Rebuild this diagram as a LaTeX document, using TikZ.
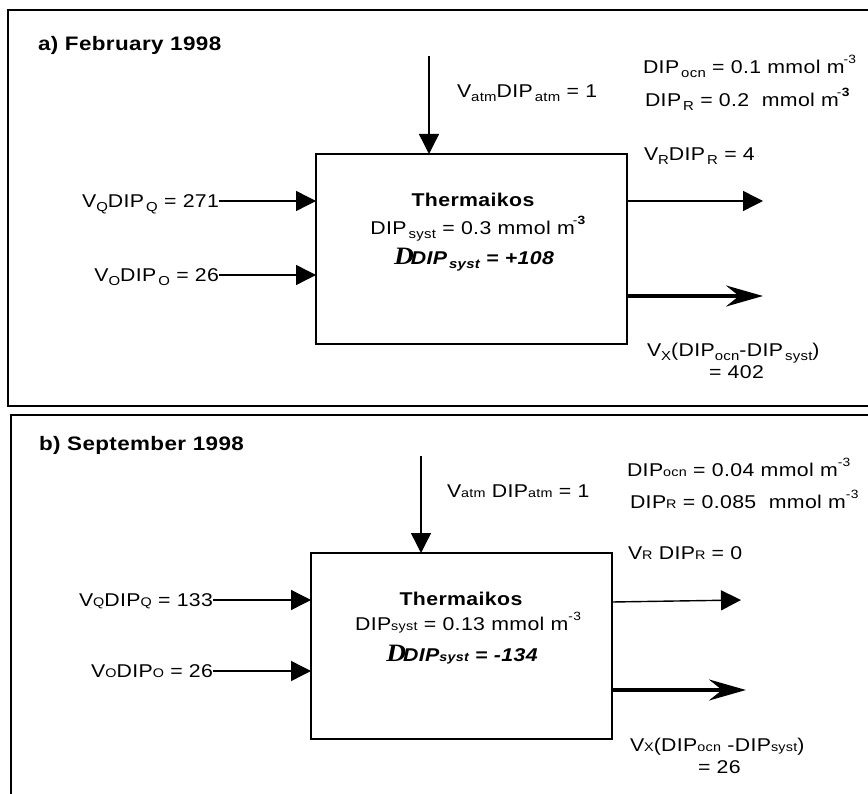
\documentclass[tikz,border=0pt]{standalone}
\usepackage{fontspec}
\setmainfont{Liberation Sans}[LetterSpace=2,FakeStretch=1.15]
\newfontfamily\serifD{Liberation Serif}[FakeStretch=1.1]
\usetikzlibrary{arrows.meta}
\newcommand\lo[1]{\raisebox{-0.22em}{\fontsize{13}{14}\selectfont #1}}
\newcommand\sm[1]{{\fontsize{12.5}{14}\selectfont #1}}
\newcommand\up[1]{\raisebox{0.55em}{\fontsize{12}{13}\selectfont #1}}
\newcommand\bigD{{\serifD\bfseries\itshape\fontsize{25}{25}\selectfont D}\kern-3pt}
\begin{document}
\begin{tikzpicture}[x=1pt,y=-1pt,
  font=\fontsize{18.5}{22}\selectfont,
  txt/.style={inner sep=0pt, outer sep=0pt, text height=13.2pt, text depth=0pt, anchor=west},
  ctxt/.style={txt, anchor=center},
  titletxt/.style={txt, font=\fontsize{19.5}{22}\selectfont\bfseries},
  frameline/.style={line width=1.8pt},
  sysbox/.style={draw, line width=1.8pt, inner sep=0pt, outer sep=0pt},
  flow/.style={line width=1.4pt, -{Triangle[length=20pt,width=20pt]}},
  bigflow/.style={line width=3.2pt, -{Stealth[length=37pt,width=21pt,inset=13pt]}}]
\useasboundingbox (0,0) rectangle (868,794);

% ---------- panel a ----------
\draw[frameline] (870,10) -- (8,10) -- (8,406) -- (870,406);
\node[sysbox, minimum width=311pt, minimum height=190pt] (boxA) at (471.5,249) {};
\node[titletxt] (titA) at (38,44) {a) February 1998};
\node[txt] (atmA) at (457,91) {V\lo{atm}DIP\kern2pt\lo{atm} = 1};
\node[txt] (ocnA) at (643,67) {DIP\kern2pt\lo{ocn} = 0.1 mmol m\kern-1pt\up{-3}};
\node[txt] (rA) at (645,100) {DIP\kern2pt\lo{R} = 0.2 \ mmol m\kern-2pt\up{-\textbf{3}}};
\node[txt] (vrA) at (644,154) {V\lo{R}DIP\kern2pt\lo{R} = 4};
\node[ctxt, font=\fontsize{18.5}{22}\selectfont\bfseries] (thA) at (473,200) {Thermaikos};
\node[ctxt] (sysA) at (478,228) {DIP\kern2pt\lo{syst} = 0.3 mmol m\kern-2pt\up{-\textbf{3}}};
\node[ctxt, font=\fontsize{18.5}{22}\selectfont\bfseries\itshape] (dA) at (474,258) {\bigD DIP\kern2pt\lo{syst} = +108};
\node[txt, anchor=east] (qA) at (219,201) {V\lo{Q}DIP\kern2pt\lo{Q} = 271};
\node[txt, anchor=east] (oA) at (219,275) {V\lo{O}DIP\kern2pt\lo{O} = 26};
\node[txt] (xA) at (647,350) {V\lo{X}(DIP\lo{ocn}-DIP\kern2pt\lo{syst})};
\node[txt] (xvA) at (709,372) {= 402};
\coordinate (topA) at (429,56);
\coordinate (outRA) at (763,201);
\coordinate (outXA) at (763,296);
\draw[flow] (topA) -- (topA |- boxA.north);
\draw[flow] (qA.east) -- (qA.east -| boxA.west);
\draw[flow] (oA.east) -- (oA.east -| boxA.west);
\draw[flow] (outRA -| boxA.east) -- (outRA);
\draw[bigflow] (outXA -| boxA.east) -- (outXA);

% ---------- panel b ----------
\draw[frameline] (870,415) -- (11,415) -- (11,800);
\node[sysbox, minimum width=301pt, minimum height=186pt] (boxB) at (461.5,646) {};
\node[titletxt] (titB) at (39,444) {b) September 1998};
\node[txt] (atmB) at (447,491) {V\sm{atm} DIP\sm{atm} = 1};
\node[txt] (ocnB) at (627,470) {DIP\sm{ocn} = 0.04 mmol m\up{-3}};
\node[txt] (rB) at (630,502) {DIP\sm{R} = 0.085 \ mmol m\up{-3}};
\node[txt] (vrB) at (628,553) {V\sm{R} DIP\sm{R} = 0};
\node[ctxt, font=\fontsize{18.5}{22}\selectfont\bfseries] (thB) at (461,599) {Thermaikos};
\node[ctxt] (sysB) at (468,624) {DIP\sm{syst} = 0.13 mmol m\up{-3}};
\node[ctxt, font=\fontsize{18.5}{22}\selectfont\bfseries\itshape] (dB) at (462,655) {\bigD DIP\sm{syst} = -134};
\node[txt, anchor=east] (qB) at (213,600) {V\sm{Q}DIP\sm{Q} = 133};
\node[txt, anchor=east] (oB) at (213,671) {V\sm{O}DIP\sm{O} = 26};
\node[txt] (xB) at (630,745) {V\sm{X}(DIP\sm{ocn} -DIP\sm{syst})};
\node[txt] (xvB) at (698,767) {= 26};
\coordinate (topB) at (421,456);
\coordinate (startRB) at (612,602);
\coordinate (outRB) at (741,600);
\coordinate (outXB) at (746,690);
\draw[flow] (topB) -- (topB |- boxB.north);
\draw[flow] (qB.east) -- (qB.east -| boxB.west);
\draw[flow] (oB.east) -- (oB.east -| boxB.west);
\draw[flow] (startRB -| boxB.east) -- (outRB);
\draw[bigflow] (outXB -| boxB.east) -- (outXB);
\end{tikzpicture}
\end{document}
